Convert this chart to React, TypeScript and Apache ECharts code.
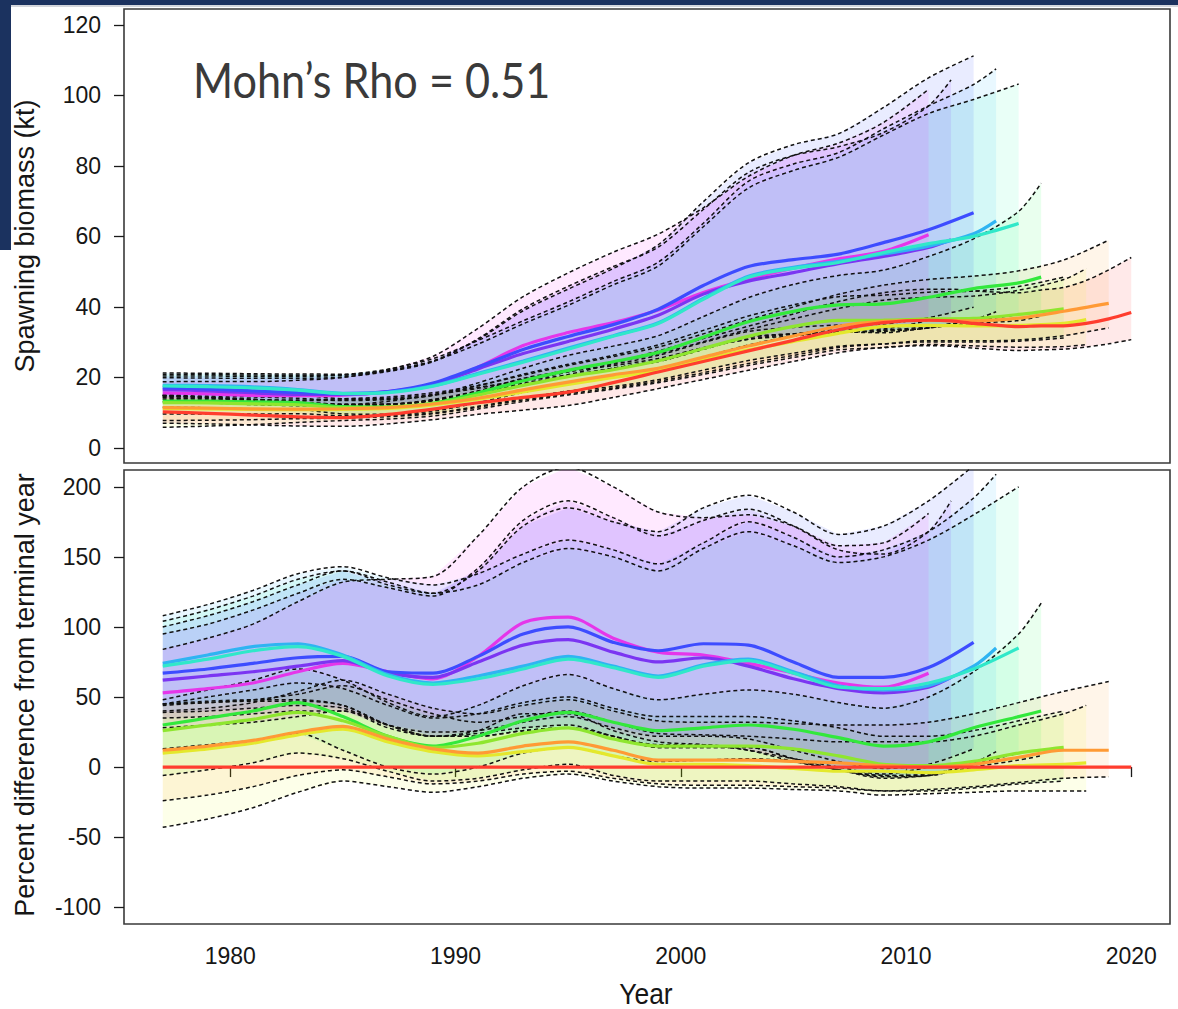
import React, { useEffect, useRef } from "react";
import * as echarts from "echarts";

// Terminal-year (2020) run: spawning biomass (kt) with its interval
const terminalYears = [1977, 1979, 1981, 1983, 1985, 1987, 1989, 1991, 1993, 1995, 1997, 1999, 2001, 2003, 2005, 2007, 2009, 2011, 2012, 2013, 2014, 2015, 2016, 2017, 2018, 2019, 2020];
const terminalSSB = [10.2, 9.8, 9.3, 8.8, 8.6, 9.5, 11.0, 12.8, 14.3, 15.8, 18.5, 21.5, 24.5, 27.5, 30.5, 33.5, 35.5, 36.2, 36.0, 35.3, 34.8, 34.4, 34.6, 34.6, 35.3, 36.6, 38.4];
const terminalHi = [14.9, 14.2, 13.4, 12.6, 12.2, 13.2, 15.0, 17.2, 19.0, 20.8, 24.0, 27.5, 31.0, 34.5, 38.0, 41.5, 44.0, 45.0, 45.0, 44.5, 44.2, 44.0, 44.8, 45.5, 47.5, 50.5, 54.0];
const terminalLo = [7.0, 6.8, 6.5, 6.2, 6.1, 6.8, 8.0, 9.5, 10.7, 12.0, 14.3, 16.8, 19.4, 22.0, 24.5, 27.0, 28.5, 29.0, 28.8, 28.3, 27.9, 27.6, 27.8, 28.0, 28.6, 29.5, 30.7];

// Retrospective peels: percent difference from the terminal-year median
const mid2011 = [53, 56, 60, 68, 74, 68, 63, 79, 103, 107, 92, 82, 80, 74, 67, 60, 57, 67];
const hi2011 = [84, 92, 102, 118, 132, 134, 136, 165, 200, 214, 200, 182, 178, 180, 172, 158, 160, 181];
const lo2011 = [28, 30, 32, 36, 40, 30, 22, 26, 38, 38, 26, 18, 16, 12, 6, 0, -5, 0];

const mid2012 = [62, 65, 68, 72, 76, 67, 64, 75, 87, 91, 82, 75, 78, 72, 63, 56, 53, 57, 64];
const hi2012 = [95, 102, 112, 124, 134, 128, 122, 142, 176, 190, 178, 165, 176, 184, 172, 155, 152, 168, 190];
const lo2012 = [35, 36, 38, 40, 40, 28, 22, 24, 28, 30, 22, 16, 16, 12, 4, -2, -7, -6, -2];

const mid2013 = [67, 70, 74, 78, 79, 68, 67, 79, 95, 100, 89, 83, 88, 87, 75, 64, 64, 71, 89];
const hi2013 = [100, 108, 118, 130, 140, 132, 124, 140, 172, 185, 175, 168, 185, 194, 182, 166, 172, 190, 215];
const lo2013 = [39, 40, 42, 44, 42, 30, 25, 26, 32, 36, 28, 22, 22, 20, 12, 4, -1, 2, 13];

const mid2014 = [74, 80, 86, 88, 80, 66, 60, 65, 72, 79, 72, 65, 73, 77, 68, 58, 55, 58, 72, 85];
const hi2014 = [108, 116, 126, 138, 143, 135, 130, 138, 152, 162, 155, 145, 160, 175, 164, 150, 155, 168, 192, 209];
const lo2014 = [45, 47, 48, 48, 44, 30, 22, 22, 26, 28, 22, 14, 14, 14, 6, -2, -6, -6, 3, 11];

const mid2015 = [72, 77, 83, 86, 79, 65, 59, 63, 70, 77, 71, 64, 72, 76, 67, 57, 56, 60, 70, 85];
const hi2015 = [104, 112, 122, 134, 140, 130, 124, 130, 146, 156, 150, 140, 156, 168, 158, 146, 150, 162, 180, 200];
const lo2015 = [44, 46, 47, 47, 44, 30, 22, 22, 26, 28, 22, 14, 14, 14, 6, -2, -6, -5, 2, 10];

const mid2016 = [30, 35, 40, 46, 36, 22, 15, 22, 33, 39, 32, 26, 28, 30, 27, 21, 15, 18, 28, 36, 40];
const hi2016 = [48, 55, 62, 70, 62, 46, 36, 44, 58, 66, 56, 48, 52, 55, 52, 46, 42, 50, 68, 95, 117];
const lo2016 = [13, 16, 19, 24, 12, 0, -5, 0, 10, 14, 8, 4, 5, 6, 4, -2, -8, -6, 0, 5, 8];

const mid2017 = [26, 30, 34, 39, 33, 22, 14, 17, 24, 28, 20, 15, 15, 15, 13, 8, 2, 1, 4, 10, 14];
const hi2017 = [45, 50, 55, 60, 56, 44, 35, 38, 46, 50, 42, 36, 36, 36, 33, 28, 22, 22, 26, 33, 40];
const lo2017 = [-6, -2, 3, 10, 6, -3, -10, -8, -2, 2, -6, -10, -10, -10, -12, -14, -17, -17, -15, -12, -10];

const mid2018 = [10, 13, 17, 23, 27, 18, 11, 8, 11, 14, 8, 2, 2, 1, -1, -3, -3, -4, -2, 1, 2, 3];
const hi2018 = [45, 46, 48, 52, 58, 48, 38, 32, 36, 40, 32, 24, 23, 22, 20, 18, 18, 18, 22, 30, 38, 44];
const lo2018 = [-43, -37, -29, -18, -10, -14, -18, -14, -8, -5, -10, -14, -15, -15, -16, -17, -20, -19, -18, -17, -17, -17];

const mid2019 = [12, 15, 19, 25, 29, 20, 13, 10, 15, 18, 12, 5, 5, 5, 4, 3, 1, 0, 2, 7, 12, 12];
const hi2019 = [40, 42, 46, 54, 62, 52, 42, 38, 44, 48, 40, 33, 32, 32, 31, 30, 30, 32, 38, 46, 54, 61];
const lo2019 = [-24, -20, -14, -6, -2, -7, -12, -10, -5, -3, -8, -12, -13, -13, -14, -15, -17, -16, -14, -11, -8, -7];

// Axis ticks
const yearTicks = [1980, 1990, 2000, 2010, 2020];
const ssbTicks = [0, 20, 40, 60, 80, 100, 120];
const pctTicks = [-100, -50, 0, 50, 100, 150, 200];

// Line and band colours per terminal year
const lineColors: Record<number, string> = {
  2011: "#e536ea", 2012: "#7b35f2", 2013: "#3d4cff", 2014: "#2fb4f2", 2015: "#30e8c9",
  2016: "#33e83c", 2017: "#8ee62f", 2018: "#e4e82c", 2019: "#ff9a35", 2020: "#ff3d2e",
};
const BAND_ALPHA = 0.085;
const bandRGB: Record<number, string> = {
  2011: "255,0,255", 2012: "112,0,255", 2013: "0,34,255", 2014: "0,170,255", 2015: "0,255,160",
  2016: "0,255,55", 2017: "85,255,0", 2018: "230,255,0", 2019: "255,140,0", 2020: "255,0,0",
};
const bandFill = (end: number) => `rgba(${bandRGB[end]},${BAND_ALPHA})`;

const peels = [
  { end: 2011, mid: mid2011, lo: lo2011, hi: hi2011 },
  { end: 2012, mid: mid2012, lo: lo2012, hi: hi2012 },
  { end: 2013, mid: mid2013, lo: lo2013, hi: hi2013 },
  { end: 2014, mid: mid2014, lo: lo2014, hi: hi2014 },
  { end: 2015, mid: mid2015, lo: lo2015, hi: hi2015 },
  { end: 2016, mid: mid2016, lo: lo2016, hi: hi2016 },
  { end: 2017, mid: mid2017, lo: lo2017, hi: hi2017 },
  { end: 2018, mid: mid2018, lo: lo2018, hi: hi2018 },
  { end: 2019, mid: mid2019, lo: lo2019, hi: hi2019 },
];

// Estimates are kept every second year, plus the peel's final year
const estimateYears = (end: number) => {
  const ys: number[] = [];
  for (let y = 1977; y < end; y += 2) ys.push(y);
  ys.push(end);
  return ys;
};

const ssbAt = (year: number) => terminalSSB[terminalYears.indexOf(year)];
const pctToKt = (year: number, pct: number) => ssbAt(year) * (1 + pct / 100);

const SANS = "'Liberation Sans', Arial, sans-serif";
const DASH = { color: "#111111", width: 1.5, type: [4, 3] as number[] };
const SMOOTH = 0.3;

// Shaded interval (custom polygon) with dashed upper and lower bounds
function band(axis: number, xs: number[], lo: number[], hi: number[], fill: string) {
  const fillSeries = {
    type: "custom", xAxisIndex: axis, yAxisIndex: axis, silent: true, clip: true, z: 1,
    data: [[xs[0], lo[0]]],
    renderItem: (_params: any, api: any) => {
      const upper = xs.map((x, i) => api.coord([x, hi[i]]));
      const lower = xs.map((x, i) => api.coord([x, lo[i]])).reverse();
      return { type: "polygon", shape: { points: upper.concat(lower) }, style: { fill, stroke: null } };
    },
  };
  const edge = (vals: number[]) => ({
    type: "line", xAxisIndex: axis, yAxisIndex: axis, data: xs.map((x, i) => [x, vals[i]]),
    symbol: "none", smooth: SMOOTH, lineStyle: DASH, silent: true, z: 2,
  });
  return [fillSeries, edge(lo), edge(hi)];
}

function median(axis: number, data: number[][], color: string) {
  return {
    type: "line", xAxisIndex: axis, yAxisIndex: axis, data, symbol: "none",
    smooth: SMOOTH, lineStyle: { color, width: 3.2 }, silent: true, z: 4,
  };
}

function buildOption() {
  const series: any[] = [];

  // intervals, latest peel first so the earliest peels sit on top
  series.push(...band(0, terminalYears, terminalLo, terminalHi, bandFill(2020)));
  [...peels].reverse().forEach((p) => {
    const xs = estimateYears(p.end);
    const loKt = xs.map((y, i) => pctToKt(y, p.lo[i]));
    const hiKt = xs.map((y, i) => pctToKt(y, p.hi[i]));
    series.push(...band(0, xs, loKt, hiKt, bandFill(p.end)));
    series.push(...band(1, xs, p.lo, p.hi, bandFill(p.end)));
  });

  // medians
  peels.forEach((p) => {
    const xs = estimateYears(p.end);
    series.push(median(0, xs.map((y, i) => [y, pctToKt(y, p.mid[i])]), lineColors[p.end]));
    series.push(median(1, xs.map((y, i) => [y, p.mid[i]]), lineColors[p.end]));
  });
  series.push(median(0, terminalYears.map((y, i) => [y, terminalSSB[i]]), lineColors[2020]));
  series.push(median(1, terminalYears.map((y) => [y, 0]), lineColors[2020]));

  const tickStyle = { color: "#1a1a1a", width: 1.3 };
  const labelStyle = { fontSize: 23, fontFamily: SANS, color: "#161616", formatter: (v: number) => String(v) };
  const gridBox = { show: true, borderColor: "#3a3a3a", borderWidth: 1.6, backgroundColor: "transparent" };

  return {
    animation: false,
    backgroundColor: "#ffffff",
    grid: [
      { left: 124, top: 9, width: 1046, height: 454, ...gridBox },
      { left: 124, top: 470, width: 1046, height: 454, ...gridBox },
    ],
    xAxis: [
      { type: "value", gridIndex: 0, min: 1975.28, max: 2021.72, show: false, splitLine: { show: false } },
      {
        type: "value", gridIndex: 1, min: 1975.28, max: 2021.72,
        splitLine: { show: false }, axisLine: { show: false },
        axisTick: { show: true, length: 10, customValues: yearTicks, lineStyle: tickStyle },
        axisLabel: { customValues: yearTicks, margin: 20, ...labelStyle },
      },
    ],
    yAxis: [
      {
        type: "value", gridIndex: 0, min: -4.3, max: 124.5,
        splitLine: { show: false }, axisLine: { show: false },
        axisTick: { show: true, length: 10, customValues: ssbTicks, lineStyle: tickStyle },
        axisLabel: { customValues: ssbTicks, margin: 23, ...labelStyle },
      },
      {
        type: "value", gridIndex: 1, min: -112, max: 212,
        splitLine: { show: false }, axisLine: { show: false },
        axisTick: { show: true, length: 10, customValues: pctTicks, lineStyle: tickStyle },
        axisLabel: { customValues: pctTicks, margin: 23, ...labelStyle },
      },
    ],
    graphic: [
      { type: "rect", shape: { x: 0, y: 0, width: 1178, height: 5 }, style: { fill: "#1b325f" }, z: 100 },
      { type: "rect", shape: { x: 0, y: 5, width: 1178, height: 2 }, style: { fill: "#d3d6dc" }, z: 100 },
      { type: "rect", shape: { x: 0, y: 0, width: 11, height: 250 }, style: { fill: "#1b325f" }, z: 100 },
      {
        type: "text", x: 193, y: 80, scaleX: 0.9, z: 100,
        style: { text: "Mohn\u2019s Rho = 0.51", fontSize: 48, fontFamily: "Lato, 'Open Sans', sans-serif", fill: "#3a3a3a", textVerticalAlign: "middle" },
      },
      {
        type: "text", x: 25, y: 236, rotation: Math.PI / 2, z: 100,
        style: { text: "Spawning biomass (kt)", fontSize: 27, fontFamily: SANS, fill: "#161616", textAlign: "center", textVerticalAlign: "middle" },
      },
      {
        type: "text", x: 25, y: 695, rotation: Math.PI / 2, z: 100,
        style: { text: "Percent difference from terminal year", fontSize: 27, fontFamily: SANS, fill: "#161616", textAlign: "center", textVerticalAlign: "middle" },
      },
      {
        type: "text", x: 646, y: 993, scaleX: 0.88, z: 100,
        style: { text: "Year", fontSize: 30, fontFamily: SANS, fill: "#161616", textAlign: "center", textVerticalAlign: "middle" },
      },
    ],
    series,
  };
}

export default function App() {
  const ref = useRef<HTMLDivElement>(null);
  useEffect(() => {
    document.body.style.margin = "0";
    const chart = echarts.init(ref.current!, undefined, { renderer: "svg" });
    chart.setOption(buildOption() as any);
    return () => chart.dispose();
  }, []);
  return <div ref={ref} style={{ width: 1178, height: 1009 }} />;
}
